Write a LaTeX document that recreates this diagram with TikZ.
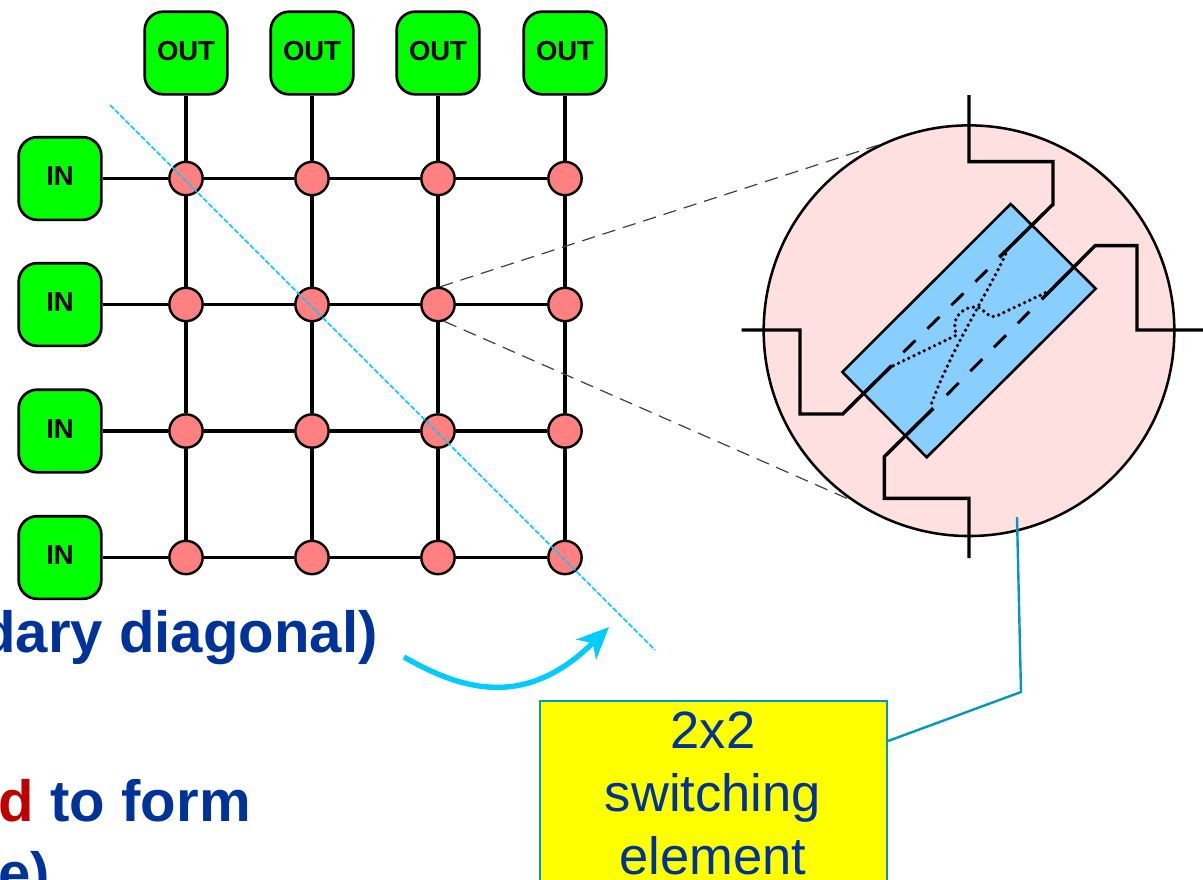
\documentclass[tikz,border=0pt]{standalone}
\usepackage{fontspec}
\setmainfont{Liberation Sans}
\usetikzlibrary{arrows.meta}
\definecolor{portgreen}{RGB}{0,255,0}
\definecolor{xpink}{RGB}{255,128,128}
\definecolor{zoompink}{RGB}{255,224,224}
\definecolor{swblue}{RGB}{136,206,255}
\definecolor{diagcyan}{RGB}{0,204,255}
\definecolor{tagline}{RGB}{0,153,187}
\definecolor{tagyellow}{RGB}{255,255,0}
\definecolor{textblue}{RGB}{0,51,153}
\definecolor{textred}{RGB}{192,0,0}
\tikzset{
  portbox/.style={draw=black,line width=2pt,fill=portgreen,rounded corners=14pt,minimum size=62pt,inner sep=0pt,text depth=3pt,font=\fontsize{20.6}{24}\selectfont\bfseries},
  xnode/.style={circle,draw=black,line width=1.8pt,fill=xpink,minimum size=25pt,inner sep=0pt},
  wire/.style={draw=black,line width=2.4pt},
  zoomwire/.style={draw=black,line width=2.6pt,line join=miter},
  innerdash/.style={draw=black,line width=2.2pt,dash pattern={on 12.8pt off 12.4pt}},
  innerdot/.style={draw=black,line width=2.8pt,line cap=round,dash pattern={on 0pt off 4.3pt}},
  guide/.style={draw=black!75,line width=0.9pt,dash pattern={on 10pt off 6pt}},
  bigtext/.style={inner sep=0pt,text=textblue,font=\fontsize{43.6}{47}\selectfont\bfseries},
  tagtext/.style={inner sep=0pt,text=textblue,font=\fontsize{39.4}{47}\selectfont,anchor=base},
}
\begin{document}
\begin{tikzpicture}[x=0.75pt,y=0.75pt,yscale=-1,xscale=1]
\clip (0,0) rectangle (1203,879);

% Port Nodes
\node [portbox] (out1) at (186,53) {OUT};
\node [portbox] (out2) at (312,53) {OUT};
\node [portbox] (out3) at (438,53) {OUT};
\node [portbox] (out4) at (565,53) {OUT};
\node [portbox] (in1) at (60,178.5) {IN};
\node [portbox] (in2) at (60,304.5) {IN};
\node [portbox] (in3) at (60,431) {IN};
\node [portbox] (in4) at (60,557.5) {IN};

% Crosspoint Nodes
\node [xnode] (x11) at (186,178.5) {};
\node [xnode] (x12) at (312,178.5) {};
\node [xnode] (x13) at (438,178.5) {};
\node [xnode] (x14) at (565,178.5) {};
\node [xnode] (x21) at (186,304.5) {};
\node [xnode] (x22) at (312,304.5) {};
\node [xnode] (x23) at (438,304.5) {};
\node [xnode] (x24) at (565,304.5) {};
\node [xnode] (x31) at (186,431) {};
\node [xnode] (x32) at (312,431) {};
\node [xnode] (x33) at (438,431) {};
\node [xnode] (x34) at (565,431) {};
\node [xnode] (x41) at (186,557.5) {};
\node [xnode] (x42) at (312,557.5) {};
\node [xnode] (x43) at (438,557.5) {};
\node [xnode] (x44) at (565,557.5) {};

%Straight Lines
\draw [wire] (in1) -- (x11);
\draw [wire] (x11) -- (x12);
\draw [wire] (x12) -- (x13);
\draw [wire] (x13) -- (x14);
\draw [wire] (in2) -- (x21);
\draw [wire] (x21) -- (x22);
\draw [wire] (x22) -- (x23);
\draw [wire] (x23) -- (x24);
\draw [wire] (in3) -- (x31);
\draw [wire] (x31) -- (x32);
\draw [wire] (x32) -- (x33);
\draw [wire] (x33) -- (x34);
\draw [wire] (in4) -- (x41);
\draw [wire] (x41) -- (x42);
\draw [wire] (x42) -- (x43);
\draw [wire] (x43) -- (x44);
\draw [wire] (out1) -- (x11);
\draw [wire] (x11) -- (x21);
\draw [wire] (x21) -- (x31);
\draw [wire] (x31) -- (x41);
\draw [wire] (out2) -- (x12);
\draw [wire] (x12) -- (x22);
\draw [wire] (x22) -- (x32);
\draw [wire] (x32) -- (x42);
\draw [wire] (out3) -- (x13);
\draw [wire] (x13) -- (x23);
\draw [wire] (x23) -- (x33);
\draw [wire] (x33) -- (x43);
\draw [wire] (out4) -- (x14);
\draw [wire] (x14) -- (x24);
\draw [wire] (x24) -- (x34);
\draw [wire] (x34) -- (x44);

%Diagonal
\coordinate (diagtop) at (110,105);
\coordinate (diagend) at (655,650);
\draw [diagcyan,line width=1.3pt,dash pattern={on 4pt off 1.5pt}] (diagtop) -- (diagend);

%Curve Lines
\coordinate (curvestart) at (404,657);
\coordinate (curvetip) at (609,627);
\draw [diagcyan,line width=4pt,-{Stealth[length=24pt,width=21pt,inset=7pt]}] (curvestart) .. controls (470,695) and (530,705) .. (curvetip);

% Zoom Circle
\node [circle,draw=black,line width=1.9pt,fill=zoompink,minimum size=308pt,inner sep=0pt] (zoom) at (969,330.7) {};

%Guide Lines
\draw [guide] (x23.83) -- (zoom.116.4);
\draw [guide] (x23.-70) -- (zoom.235.8);

% Switching Element
\draw [fill=swblue,draw=black,line width=1.9pt,line join=miter] (1010.7,204) -- (1095.7,288.7) -- (926.7,457.3) -- (842.3,372) -- cycle;
\draw [zoomwire] (969,95) -- (969,161.7) -- (1053,161.7) -- (1053,204.3) -- (999.3,257.3);
\draw [zoomwire] (1203,330) -- (1137,330) -- (1137,245.7) -- (1095,245.7) -- (1041.7,299.3);
\draw [zoomwire] (741.7,330) -- (800,330) -- (800,414) -- (842.7,414) -- (891.7,365.7);
\draw [zoomwire] (969,558) -- (969,498.3) -- (884.3,498.3) -- (884.3,456.7) -- (933.3,408.3);
\draw [innerdash] (903.3,352.3) -- (987.3,270);
\draw [innerdash] (946.7,395) -- (1029.3,311.7);
\draw [innerdot] (1008,249) .. controls (990,290) and (950,350) .. (930,408);
\draw [innerdot] (893.3,365.7) -- (956.7,335) .. controls (950,322) and (960,305) .. (978.3,307.3) .. controls (985,310) and (988,318) .. (995,316.7) -- (1047,292);

%Tag Box
\node [draw=tagline,line width=1.8pt,fill=tagyellow,minimum width=260pt,minimum height=160pt,anchor=north,inner sep=0pt] (tagbox) at (713.5,700) {};
\node [tagtext] (tagone) at (713,748) {2x2};
\node [tagtext] (tagtwo) at (713,811) {switching};
\node [tagtext] (tagthree) at (713,874) {element};
\coordinate (tagin) at (1017,517);
\coordinate (tagbend) at (1021,692);
\coordinate (tagfoot) at (888,741);
\draw [tagline,line width=1.8pt] (tagin) -- (tagbend) -- (tagfoot);

% Text Node
\node [bigtext,anchor=base east] (lineone) at (378,652) {dary diagonal)};
\node [bigtext,anchor=base east] (linetwo) at (251,821) {{\color{textred}d} to form};
\node [bigtext,anchor=base east] (linethree) at (50,893) {e)};

\end{tikzpicture}
\end{document}
